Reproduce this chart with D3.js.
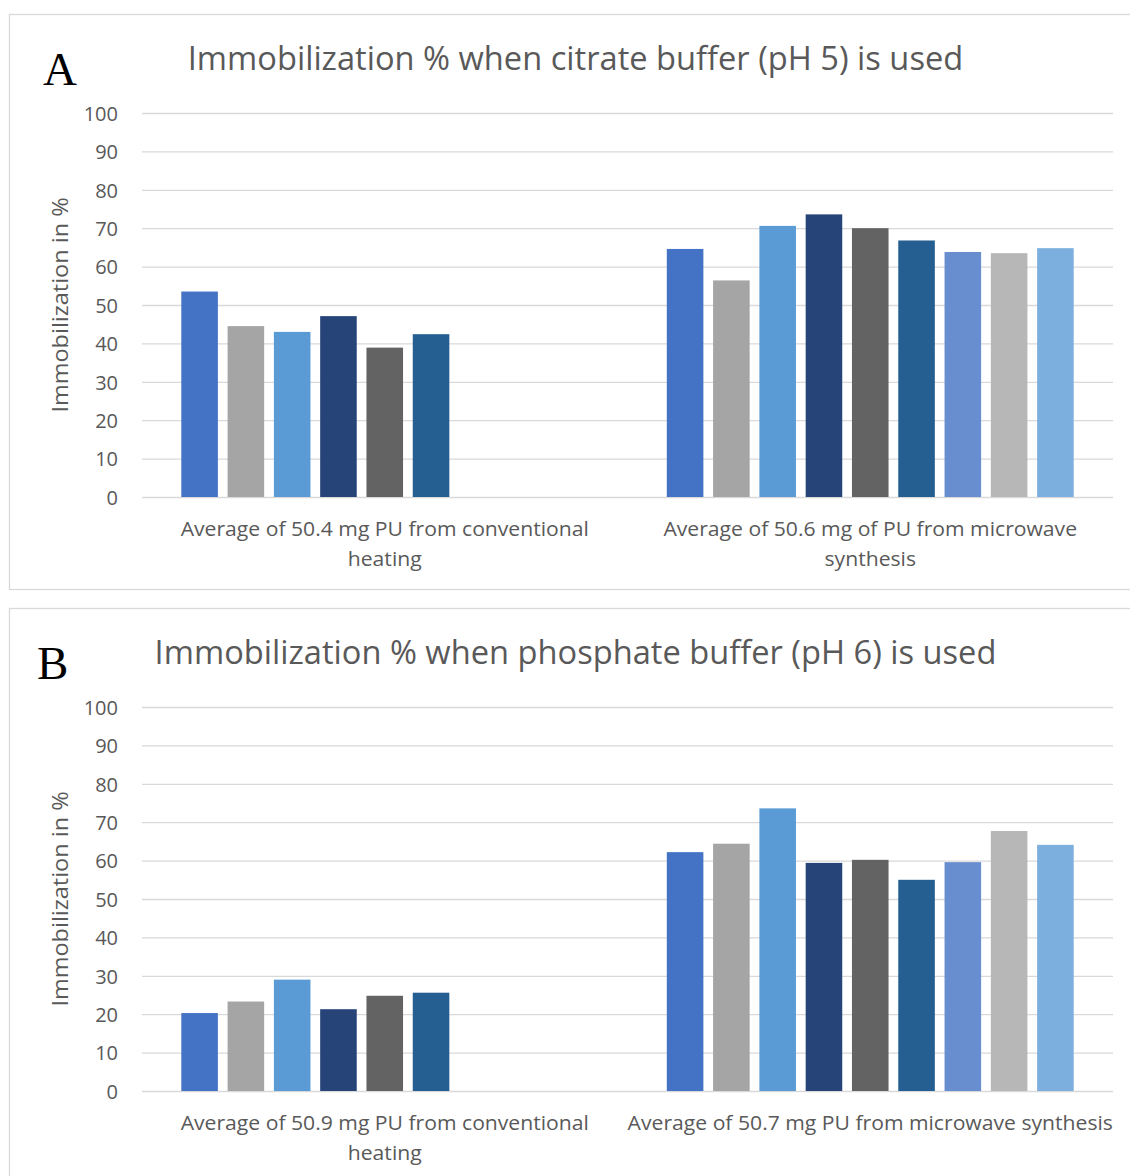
<!DOCTYPE html>
<html>
<head>
<meta charset="utf-8">
<script src="https://cdn.jsdelivr.net/npm/d3@7"></script>
<style>
  html, body { margin: 0; padding: 0; background: #fff; }
  svg { display: block; }
</style>
</head>
<body>
<svg id="chart" width="1130" height="1176"></svg>
<script>
// ---------- DATA ----------
const yTicks = [0, 10, 20, 30, 40, 50, 60, 70, 80, 90, 100];
const seriesColors = ["#4472C4", "#A5A5A5", "#5B9BD5", "#264478", "#636363", "#255E91", "#698ED0", "#B7B7B7", "#7CAFDD"];
const seriesIds = [1, 2, 3, 4, 5, 6, 7, 8, 9];

const titleA = "Immobilization % when citrate buffer (pH 5) is used";
const categoriesA = ["Average of 50.4 mg PU from conventional\nheating", "Average of 50.6 mg of PU from microwave\nsynthesis"];
const valuesA_conventional = [53.5, 44.5, 43.0, 47.1, 38.9, 42.4];
const valuesA_microwave = [64.6, 56.4, 70.6, 73.6, 70.0, 66.8, 63.8, 63.5, 64.8];

const titleB = "Immobilization % when phosphate buffer (pH 6) is used";
const categoriesB = ["Average of 50.9 mg PU from conventional\nheating", "Average of 50.7 mg PU from microwave synthesis"];
const valuesB_conventional = [20.3, 23.3, 29.0, 21.3, 24.8, 25.6];
const valuesB_microwave = [62.2, 64.4, 73.6, 59.4, 60.2, 55.0, 59.6, 67.7, 64.1];

const yLabel = "Immobilization in %";
// ---------------------------

const svg = d3.select("#chart");
const FONT = "'Open Sans', sans-serif";
const TXT = "#595959";
const GRID = "#D9D9D9";

function condense(sel, k) {
  sel.each(function () {
    const w = this.getComputedTextLength();
    d3.select(this).attr("textLength", w * k).attr("lengthAdjust", "spacingAndGlyphs");
  });
}

function drawChart(oy, letter, letterX, title, categories, valueSets) {
  const g = svg.append("g").attr("transform", `translate(0,${oy})`);

  // frame
  g.append("rect")
    .attr("x", 9.5).attr("y", 14.5)
    .attr("width", 1140).attr("height", 575)
    .attr("fill", "#fff").attr("stroke", GRID).attr("stroke-width", 1.3);

  const x0 = d3.scaleBand().domain(categories).range([142, 1113]).paddingInner(0).paddingOuter(0);
  const y = d3.scaleLinear().domain([0, 100]).range([497, 113]);
  const inner = 39.3;
  const x1 = d3.scaleBand().domain(seriesIds)
    .range([inner, x0.bandwidth() - inner]).paddingInner(0.21).paddingOuter(0);

  // gridlines via axis
  const gridAxis = d3.axisLeft(y).tickValues(yTicks).tickSize(-(1113 - 142)).tickFormat("");
  const gg = g.append("g").attr("transform", "translate(142,0)").call(gridAxis);
  gg.select(".domain").remove();
  gg.selectAll(".tick line").attr("stroke", GRID).attr("stroke-width", 1.3);

  // tick labels
  const yAxis = d3.axisLeft(y).tickValues(yTicks).tickSize(0).tickPadding(0);
  const ya = g.append("g").attr("transform", "translate(118,0)").call(yAxis);
  ya.select(".domain").remove();
  ya.selectAll(".tick text")
    .attr("fill", TXT).attr("font-family", FONT).attr("font-size", 20).attr("dy", "0.36em");

  // bars
  const groups = g.append("g").selectAll("g")
    .data(categories.map((c, i) => ({ cat: c, vals: valueSets[i] })))
    .join("g")
    .attr("transform", d => `translate(${x0(d.cat)},0)`);
  groups.selectAll("rect")
    .data(d => d.vals.map((v, i) => ({ s: seriesIds[i], v })))
    .join("rect")
    .attr("x", d => x1(d.s))
    .attr("width", x1.bandwidth())
    .attr("y", d => y(d.v))
    .attr("height", d => y(0) - y(d.v))
    .attr("fill", (d, i) => seriesColors[i]);

  // category labels
  categories.forEach(c => {
    const lines = c.split("\n");
    const t = g.append("text")
      .attr("font-family", FONT).attr("font-size", 20).attr("fill", TXT)
      .attr("text-anchor", "middle");
    lines.forEach((ln, j) => {
      t.append("tspan")
        .attr("x", x0(c) + x0.bandwidth() / 2)
        .attr("y", 536 + j * 29.5)
        .text(ln);
    });
    t.selectAll("tspan").call(condense, 1.057);
  });

  // title
  g.append("text")
    .attr("x", 575.5).attr("y", 70)
    .attr("text-anchor", "middle")
    .attr("font-family", FONT).attr("font-size", 32).attr("fill", TXT)
    .text(title)
    .call(condense, 1.02);

  // y label
  g.append("text")
    .attr("transform", "translate(68,305) rotate(-90)")
    .attr("text-anchor", "middle")
    .attr("font-family", FONT).attr("font-size", 22).attr("fill", TXT)
    .text(yLabel)
    .call(condense, 1.068);

  // panel letter
  g.append("text")
    .attr("x", letterX).attr("y", 85)
    .attr("font-family", "'Liberation Serif', 'DejaVu Serif', serif")
    .attr("font-size", 47).attr("fill", "#000")
    .text(letter);
}

drawChart(0, "A", 43, titleA, categoriesA, [valuesA_conventional, valuesA_microwave]);
drawChart(594, "B", 37, titleB, categoriesB, [valuesB_conventional, valuesB_microwave]);
</script>
</body>
</html>
